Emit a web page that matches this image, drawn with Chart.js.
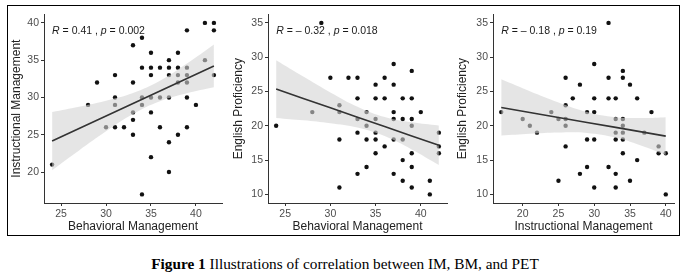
<!DOCTYPE html>
<html><head><meta charset="utf-8">
<script src="https://cdn.jsdelivr.net/npm/chart.js@4.4.1/dist/chart.umd.min.js"></script>
<style>
html,body{margin:0;padding:0;background:#fff;width:690px;height:274px;overflow:hidden;}
#frame{position:absolute;left:7px;top:5px;width:671px;height:229px;border:1px solid #000;}
canvas{position:absolute;}
#caption{position:absolute;left:0;width:690px;top:255px;line-height:17px;text-align:center;font-family:"Liberation Serif","Times New Roman",serif;font-size:15.3px;color:#000;white-space:nowrap;}
</style></head>
<body>
<div id="frame"></div>
<canvas id="c1"></canvas><canvas id="c2"></canvas><canvas id="c3"></canvas>
<div id="caption"><b>Figure 1</b> Illustrations of correlation between IM, BM, and PET</div>
<script>
// ---------- data ----------
// Panel 1: Instructional Management vs Behavioral Management
const BM1 = [41,42,42,39,34,33,35,38,37,41,34,35,36,37,38,39,31,35,37,38,39,42,29,33,38,39,31,34,35,36,37,39,28,31,34,40,33,35,33,30,31,32,36,39,33,38,37,35,24,37,34];
const IM1 = [40,40,39,39,38,37,36,36,35,35,34,34,34,34,34,34,33,33,33,33,33,33,32,32,32,32,30,30,30,30,30,30,29,29,29,29,28,28,27,26,26,26,26,26,25,25,24,22,21,20,17];
// Panel 2: English Proficiency vs Behavioral Management
const BM2  = [29,37,39,30,32,33,36,35,37,33,35,36,38,39,31,28,31,34,37,40,33,35,37,38,39,24,34,39,33,35,42,31,34,35,37,38,36,42,35,39,42,38,34,39,33,37,38,41,31,39,41];
const PET2 = [35,29,28,27,27,27,27,26,26,24,24,24,24,24,23,22,22,22,22,22,21,21,21,21,21,20,20,20,19,19,19,18,18,18,18,18,17,17,16,16,16,15,14,14,13,13,12,12,11,11,10];
// Panel 3: English Proficiency vs Instructional Management
const IM3  = [32,30,34,26,32,34,28,35,27,30,32,33,36,26,17,24,29,30,38,20,25,26,33,34,21,26,34,22,33,34,37,29,30,33,34,26,39,34,39,40,36,29,32,28,33,25,35,30,33,40];
const PET3 = [35,29,28,27,27,27,26,26,24,24,24,24,24,23,22,22,22,22,22,21,21,21,21,21,20,20,20,19,19,19,19,18,18,18,18,17,17,16,16,16,15,14,14,13,13,12,12,11,11,10];

// fitted lines and confidence bands
const FIT_X1 = [24,27,30,33,36,39,42];
const FIT_Y1 = [24.15,25.83,27.51,29.19,30.87,32.55,34.23];
const LO1    = [20.25,22.90,25.46,27.79,29.50,30.56,31.36];
const HI1    = [28.05,28.76,29.56,30.59,32.24,34.54,37.10];

const FIT_X2 = [24,27,30,33,36,39,42];
const FIT_Y2 = [25.35,23.99,22.62,21.26,19.89,18.53,17.16];
const LO2    = [21.15,20.80,20.37,19.74,18.50,16.56,14.29];
const HI2    = [29.55,27.18,24.87,22.78,21.28,20.50,20.03];

const FIT_X3 = [17,21,25,29,33,37,40];
const FIT_Y3 = [22.67,21.94,21.22,20.49,19.77,19.04,18.50];
const LO3    = [18.57,18.84,19.03,18.96,18.29,16.95,15.75];
const HI3    = [26.77,25.04,23.41,22.02,21.25,21.13,21.25];

// tick labels
const BM_TICKS  = [25,30,35,40];
const IM_TICKS  = [20,25,30,35,40];
const PET_TICKS = [10,15,20,25,30,35];

// texts
const X_TITLES = ['Behavioral Management','Behavioral Management','Instructional Management'];
const Y_TITLES = ['Instructional Management','English Proficiency','English Proficiency'];
const R_LABELS = ['0.41','\u2013 0.32','\u2013 0.18'];
const P_LABELS = ['0.002','0.018','0.19'];

// ---------- drawing ----------
const FONT = '"Liberation Sans", Arial, Helvetica, sans-serif';

function expand(arr){ const mn = Math.min(...arr), mx = Math.max(...arr), r = mx - mn; return [mn - 0.05*r, mx + 0.05*r]; }
function pts(xs, ys){ return xs.map((x,i)=>({x:x, y:ys[i]})); }

const annot = {
  id:'annot',
  afterDatasetsDraw(chart, args, o){
    const {ctx, chartArea, scales} = chart;
    let x = scales.x.getPixelForValue(o.xMin);
    const y = chartArea.top + 19.5;
    const parts = [['R',true],[' = '+o.r+' , ',false],['p',true],[' = '+o.p,false]];
    ctx.save();
    ctx.fillStyle = '#1a1a1a'; ctx.textAlign = 'left'; ctx.textBaseline = 'alphabetic';
    for (const [t,it] of parts){
      ctx.font = (it?'italic ':'') + '10.5px ' + FONT;
      ctx.fillText(t, x, y);
      x += ctx.measureText(t).width;
    }
    ctx.restore();
  }
};

function panel(id, lay, xs, ys, fx, fy, lo, hi, xTicks, yTicks, k){
  const cv = document.getElementById(id);
  cv.width = lay.w; cv.height = 228;
  cv.style.left = lay.left + 'px'; cv.style.top = '6px';
  cv.style.width = lay.w + 'px'; cv.style.height = '228px';
  const xr = expand(xs), yr = expand(ys);
  const axisCommon = {
    grid:{display:true, drawOnChartArea:false, drawTicks:true, tickLength:3, color:'#333', lineWidth:1},
    border:{display:true, color:'#333', width:1},
  };
  new Chart(cv, {
    type:'scatter',
    data:{datasets:[
      {data:pts(xs,ys), backgroundColor:'#111', borderWidth:0, pointRadius:2.2, order:3},
      {type:'line', data:pts(fx,lo), borderColor:'rgba(0,0,0,0)', borderWidth:0, pointRadius:0, fill:false, tension:0.4, order:2},
      {type:'line', data:pts(fx,hi), borderColor:'rgba(0,0,0,0)', borderWidth:0, pointRadius:0, fill:1, backgroundColor:'rgba(212,212,212,0.6)', tension:0.4, order:1},
      {type:'line', data:pts(fx,fy), borderColor:'#333', borderWidth:1.6, pointRadius:0, fill:false, order:0}
    ]},
    options:{
      responsive:false, animation:false, events:[], devicePixelRatio:1,
      layout:{padding:{top:6, right:lay.rp, bottom:0, left:0}},
      plugins:{legend:{display:false}, tooltip:{enabled:false},
        annot:{xMin:Math.min(...xs), r:R_LABELS[k], p:P_LABELS[k]}},
      scales:{
        x:Object.assign({type:'linear', min:xr[0], max:xr[1],
          afterBuildTicks:s=>{ s.ticks = xTicks.map(v=>({value:v})); },
          afterFit:s=>{ s.height = 31; },
          ticks:{color:'#4d4d4d', font:{size:10.5, family:FONT}, padding:2, autoSkip:false, maxRotation:0},
          title:{display:true, text:X_TITLES[k], color:'#222', font:{size:12, family:FONT}, padding:{top:0,bottom:0}}
        }, axisCommon),
        y:Object.assign({type:'linear', min:yr[0], max:yr[1],
          afterBuildTicks:s=>{ s.ticks = yTicks.map(v=>({value:v})); },
          afterFit:s=>{ s.width = lay.yw; },
          ticks:{color:'#4d4d4d', font:{size:10.5, family:FONT}, padding:2, autoSkip:false},
          title:{display:true, text:Y_TITLES[k], color:'#222', font:{size:12, family:FONT}, padding:{top:lay.tp, bottom:0}}
        }, axisCommon)
      }
    },
    plugins:[annot]
  });
}

const LAYOUT = [
  {left:8,   w:218, yw:36, rp:3, tp:1.3},
  {left:229, w:222, yw:39, rp:3, tp:2.8},
  {left:454, w:224, yw:39, rp:2, tp:1.3}
];
panel('c1', LAYOUT[0], BM1, IM1, FIT_X1, FIT_Y1, LO1, HI1, BM_TICKS, IM_TICKS, 0);
panel('c2', LAYOUT[1], BM2, PET2, FIT_X2, FIT_Y2, LO2, HI2, BM_TICKS, PET_TICKS, 1);
panel('c3', LAYOUT[2], IM3, PET3, FIT_X3, FIT_Y3, LO3, HI3, IM_TICKS, PET_TICKS, 2);
</script>
</body></html>
